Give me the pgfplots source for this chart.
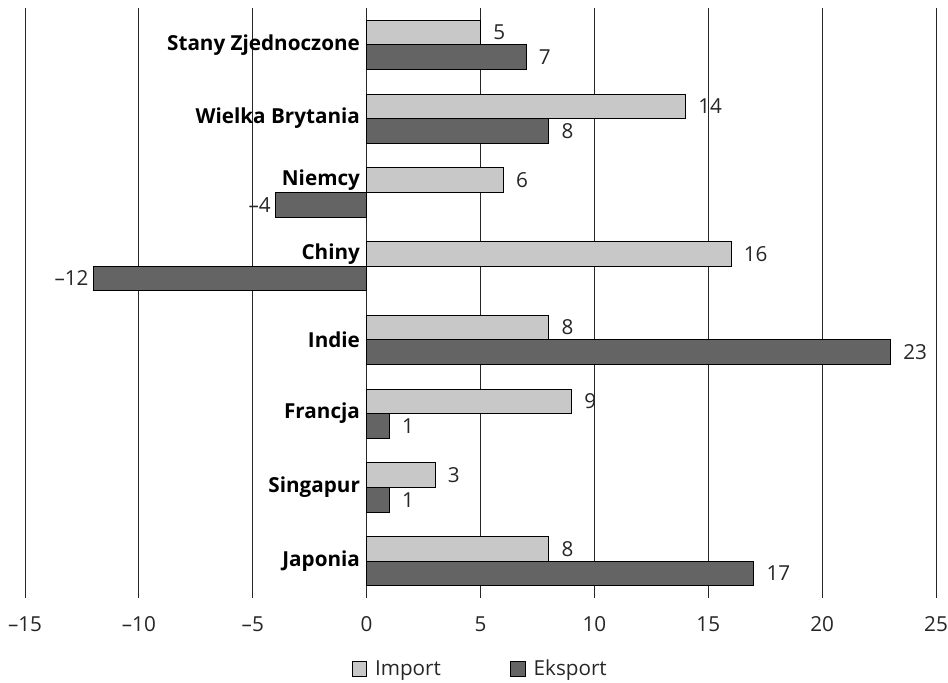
\documentclass[border=0pt]{standalone}
\usepackage{pgfplots}
\pgfplotsset{compat=1.18}
\usepackage{fontspec}
\setmainfont{Open Sans}
\definecolor{impc}{HTML}{C8C8C8}
\definecolor{expc}{HTML}{646464}
\begin{document}
\begin{tikzpicture}[font=\fontsize{15.5}{18}\selectfont]
\begin{axis}[
  scale only axis, width=683.25pt, height=442.5pt,
  xmin=-15, xmax=25, ymin=-0.5, ymax=7.5, y dir=reverse,
  xtick={-15,-10,...,25},
  xticklabels={–15,–10,–5,0,5,10,15,20,25},
  ytick={0,1,1.8333,2.8333,4,5,6,7},
  yticklabels={Stany Zjednoczone,Wielka Brytania,Niemcy,Chiny,Indie,Francja,Singapur,Japonia},
  xmajorgrids, grid style={black!85, line width=0.6pt},
  axis line style={draw=none},
  tick style={draw=none},
  xticklabel style={inner sep=0pt, yshift=-14pt, text=black!85},
  yticklabel style={font=\fontsize{15.5}{18}\selectfont\bfseries, xshift=259pt},
  xbar, bar width=0.333,
  point meta=explicit symbolic,
  legend style={at={(0.5,-0.12)}, anchor=center, draw=none, fill=none,
    legend columns=2, text=black!85,
    /tikz/every odd column/.append style={column sep=4pt},
    /tikz/every even column/.append style={column sep=50pt}},
  legend image code/.code={\draw[#1, line width=0.6pt] (0pt,-5.5pt) rectangle (11pt,5.5pt);},
]
\addplot[draw=black, line width=0.6pt, fill=impc, bar shift=-0.1667,
  nodes near coords, nodes near coords style={anchor=west, xshift=6pt, text=black!85}]
  coordinates {(5,0)[5] (14,1)[14] (6,2)[6] (16,3)[16] (8,4)[8] (9,5)[9] (3,6)[3] (8,7)[8]};
\addlegendentry{Import}
\addplot[draw=black, line width=0.6pt, fill=expc, bar shift=0.1667,
  nodes near coords, nodes near coords style={anchor=west, xshift=6pt, text=black!85}]
  coordinates {(7,0)[7] (8,1)[8] (23,4)[23] (1,5)[1] (1,6)[1] (17,7)[17]};
\addlegendentry{Eksport}
\addplot[forget plot, draw=black, line width=0.6pt, fill=expc, bar shift=0.1667,
  nodes near coords, nodes near coords style={anchor=east, xshift=0pt, text=black!85}]
  coordinates {(-4,2)[–4] (-12,3)[–12]};
\end{axis}
\path ([xshift=-18.75pt,yshift=-59.25pt]current axis.south west) rectangle ([xshift=9pt,yshift=6pt]current axis.north east);
\end{tikzpicture}
\end{document}
